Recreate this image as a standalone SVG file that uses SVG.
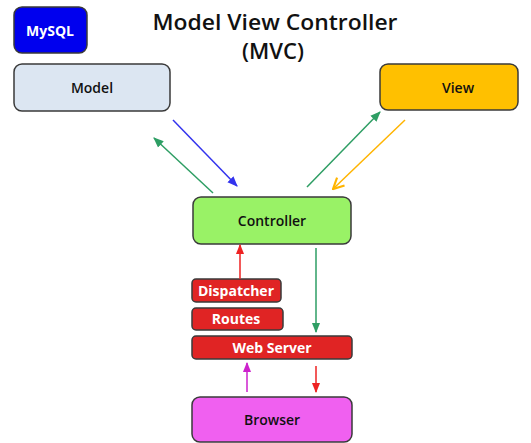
<svg xmlns="http://www.w3.org/2000/svg" width="531" height="443" viewBox="0 0 531 443">
<defs>
<style>
.t{font-family:"Open Sans","Liberation Sans",sans-serif;text-anchor:middle;dominant-baseline:central}
.n{stroke:#3a3a3a;stroke-width:1.5}
.lbl{font-size:14px;font-weight:600;fill:#111}
.w{font-size:14px;font-weight:700;fill:#fff}
.c{fill:none;stroke-width:1.5}
</style>
<marker id="ag" viewBox="0 0 10 10" refX="9" refY="5" markerWidth="7" markerHeight="7" orient="auto-start-reverse"><path d="M0,1 L10,5 L0,9 z" fill="#2e9e64"/></marker>
<marker id="ab" viewBox="0 0 10 10" refX="9" refY="5" markerWidth="7" markerHeight="7" orient="auto"><path d="M0,1 L10,5 L0,9 z" fill="#3333ee"/></marker>
<marker id="ao" viewBox="0 0 10 10" refX="9" refY="5" markerWidth="9" markerHeight="9" orient="auto"><path d="M1,1 L9,5 L1,9" fill="none" stroke="#ffb400" stroke-width="1.6"/></marker>
<marker id="ar" viewBox="0 0 10 10" refX="9" refY="5" markerWidth="7" markerHeight="7" orient="auto"><path d="M0,1 L10,5 L0,9 z" fill="#ee2222"/></marker>
<marker id="am" viewBox="0 0 10 10" refX="9" refY="5" markerWidth="7" markerHeight="7" orient="auto"><path d="M0,1 L10,5 L0,9 z" fill="#cc22cc"/></marker>
</defs>
<rect width="531" height="443" fill="#fff"/>
<g id="title">
<text class="t" x="275" y="21" font-size="22" font-weight="600" fill="#111" textLength="245" lengthAdjust="spacingAndGlyphs">Model View Controller</text>
<text class="t" x="273" y="50" font-size="22" font-weight="600" fill="#111">(MVC)</text>
</g>
<g id="mysql"><rect class="n" x="14" y="7" width="73" height="46" rx="8" fill="#0000ee"/><text class="t w" x="50" y="30" font-size="13">MySQL</text></g>
<g id="model"><rect class="n" x="14" y="64" width="156" height="47" rx="8" fill="#dce6f2"/><text class="t lbl" x="92" y="87">Model</text></g>
<g id="view"><rect class="n" x="380" y="64" width="138" height="46" rx="8" fill="#ffc000"/><text class="t lbl" x="458" y="87">View</text></g>
<g id="controller"><rect class="n" x="193" y="197" width="158" height="47" rx="8" fill="#99f266"/><text class="t lbl" x="272" y="220" font-size="15">Controller</text></g>
<g id="dispatcher"><rect class="n" x="192" y="279" width="89" height="23" rx="4" fill="#e02424"/><text class="t w" x="236" y="290">Dispatcher</text></g>
<g id="routes"><rect class="n" x="192" y="308" width="91" height="22" rx="4" fill="#e02424"/><text class="t w" x="236" y="318">Routes</text></g>
<g id="webserver"><rect class="n" x="192" y="336" width="160" height="23" rx="4" fill="#e02424"/><text class="t w" x="272" y="347">Web Server</text></g>
<g id="browser"><rect class="n" x="192" y="397" width="160" height="45" rx="8" fill="#f060f0"/><text class="t lbl" x="272" y="419" font-size="15">Browser</text></g>
<g id="connectors">
<line class="c" x1="213" y1="193" x2="154" y2="138" stroke="#2e9e64" marker-end="url(#ag)"/>
<line class="c" x1="173" y1="120" x2="237" y2="186" stroke="#3333ee" marker-end="url(#ab)"/>
<line class="c" x1="307" y1="187" x2="380" y2="112" stroke="#2e9e64" marker-end="url(#ag)"/>
<line class="c" x1="405" y1="120" x2="333" y2="189" stroke="#ffb400" stroke-width="2" marker-end="url(#ao)"/>
<line class="c" x1="240" y1="279" x2="240" y2="245" stroke="#ee2222" marker-end="url(#ar)"/>
<line class="c" x1="316" y1="248" x2="316" y2="332" stroke="#2e9e64" marker-end="url(#ag)"/>
<line class="c" x1="247" y1="392" x2="247" y2="363" stroke="#cc22cc" marker-end="url(#am)"/>
<line class="c" x1="316" y1="366" x2="316" y2="392" stroke="#ee2222" marker-end="url(#ar)"/>
</g>
</svg>
